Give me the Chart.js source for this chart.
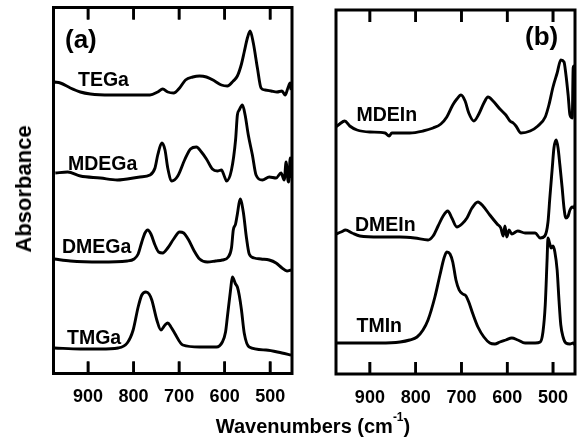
<!DOCTYPE html>
<html>
<head>
<meta charset="utf-8">
<script src="https://cdn.jsdelivr.net/npm/chart.js@4/dist/chart.umd.min.js"></script>
<style>
  html, body { margin: 0; padding: 0; background: #fff; }
  #wrap { position: relative; width: 582px; height: 440px; overflow: hidden; background: #fff; }
  #ca { position: absolute; left: 0; top: 0; }
  #cb { position: absolute; left: 300px; top: 0; }
  .lbl { position: absolute; font-family: 'Liberation Sans', Arial, sans-serif; font-weight: bold; color: #000; line-height: 1; white-space: nowrap; }
  .s { font-size: 19.5px; }
  .p { font-size: 26px; }
  #xt { font-size: 20px; left: 313px; top: 416px; transform: translateX(-50%); }
  #xt sup { font-size: 12px; vertical-align: 12px; line-height: 0; }
  #yt { font-size: 22px; left: 24px; top: 189px; transform: translate(-50%, -50%) rotate(-90deg); }
</style>
</head>
<body>
<div id="wrap">
  <canvas id="ca" width="300" height="440"></canvas>
  <canvas id="cb" width="282" height="440"></canvas>
  <div class="lbl p" style="left:65px;top:25.5px">(a)</div>
  <div class="lbl p" style="left:525px;top:22.5px">(b)</div>
  <div class="lbl s" style="left:78px;top:69.5px">TEGa</div>
  <div class="lbl s" style="left:68px;top:153.5px">MDEGa</div>
  <div class="lbl s" style="left:62px;top:236.8px">DMEGa</div>
  <div class="lbl s" style="left:67px;top:327.8px">TMGa</div>
  <div class="lbl s" style="left:356.5px;top:105.2px">MDEIn</div>
  <div class="lbl s" style="left:355px;top:215.2px">DMEIn</div>
  <div class="lbl s" style="left:356.5px;top:316.2px">TMIn</div>
  <div class="lbl" id="xt">Wavenumbers (cm<sup>-1</sup>)</div>
  <div class="lbl" id="yt">Absorbance</div>
</div>
<script>
// ---- data (wavenumber in cm^-1, absorbance in arbitrary offset units) ----
const tickValues = [900, 800, 700, 600, 500];

const tegaWn  = [974,961,939,917,895,851,808,764,747,736,725,712,699,686,670,655,640,622,607,594,581,572,563,557,550,544,537,528,520,511,498,485,474,467,461,456,454];
const tegaAbs = [291,290,285,281,279,278,278,278,281,284,281,280,285,293,296,297,296,292,288,287,292,297,309,321,335,342,330,305,285,283,282,281,282,278,285,290,283];

const mdegaWn  = [972,945,917,873,836,786,764,753,747,738,731,725,716,703,688,675,662,651,640,627,616,607,600,596,585,576,572,568,561,555,548,539,531,517,502,487,476,469,465,461,459,456,454];
const mdegaAbs = [200,201,197,195,193,196,198,205,218,230,223,205,192,197,213,224,226,221,214,204,202,203,196,192,203,233,258,263,268,258,238,218,198,193,196,195,200,193,211,193,191,215,195];

const dmegaWn  = [974,939,873,814,799,790,782,775,769,762,753,745,736,725,712,699,690,679,668,655,638,620,605,592,585,581,576,572,566,559,552,546,535,520,502,487,474,463,454];
const dmegaAbs = [114,112,111,112,114,119,131,140,143,139,128,121,120,125,134,141,140,133,123,114,111,112,113,116,125,143,149,159,174,161,135,119,115,114,113,110,105,102,103];

const tmgaWn  = [974,917,873,834,814,801,790,782,773,766,760,749,740,731,725,718,710,692,655,618,605,598,594,587,583,576,572,568,563,557,546,509,474,454];
const tmgaAbs = [25,24,24,25,30,43,66,78,81,79,73,53,43,48,50,46,40,28,26,26,31,41,56,83,96,89,86,78,63,40,26,23,20,18];

const mdeinWn  = [974,966,955,944,928,900,867,858,852,813,784,762,745,732,719,710,701,692,684,673,662,651,642,631,616,603,594,587,581,570,550,533,517,509,500,491,483,476,472,467,463,458,456,454,452];
const mdeinAbs = [246,249,252,247,243,241,240,237,240,240,242,245,249,256,268,274,278,272,260,252,259,270,276,272,264,258,252,250,247,240,242,247,256,268,286,300,313,311,299,278,258,255,305,307,263];

const dmeinWn  = [974,963,953,939,922,878,834,802,773,762,751,740,730,721,710,699,688,677,664,653,638,622,614,609,605,601,596,590,577,561,539,528,518,511,507,502,498,493,489,485,480,476,472,467,463,458,454,452];
const dmeinAbs = [139,141,143,140,137,136,136,135,133,137,147,157,162,155,146,149,155,165,171,167,158,149,145,137,147,136,143,139,142,140,140,135,137,151,175,203,225,233,225,208,185,165,155,157,163,166,165,168];

const tminWn  = [972,922,878,834,813,797,784,773,758,747,738,732,725,719,712,705,697,690,684,675,664,651,638,627,616,603,590,577,561,539,528,522,517,513,511,507,504,500,496,491,487,483,478,472,463,456,452];
const tminAbs = [30,30,30,31,33,36,43,53,76,98,115,121,119,111,93,83,79,77,71,59,46,36,30,29,31,33,35,33,30,30,31,41,68,113,135,129,125,127,121,103,73,48,36,30,29,30,28];

// ---- rendering ----
const FONT = "'Liberation Sans', Arial, sans-serif";
function toPts(wn, ab) { return wn.map((w, i) => ({ x: w, y: ab[i] })); }

const frameTicks = {
  id: 'frameTicks',
  afterDraw(chart) {
    try {
      const ctx = chart.ctx;
      const area = chart.chartArea;
      const xs = chart.scales['x'];
      ctx.save();
      ctx.strokeStyle = '#000';
      ctx.lineWidth = 3;
      ctx.strokeRect(area.left, area.top, area.right - area.left, area.bottom - area.top);
      ctx.lineWidth = 2.6;
      for (const v of tickValues) {
        const px = xs.getPixelForValue(v);
        ctx.beginPath(); ctx.moveTo(px, area.bottom); ctx.lineTo(px, area.bottom - 12); ctx.stroke();
        ctx.beginPath(); ctx.moveTo(px, area.top); ctx.lineTo(px, area.top + 12); ctx.stroke();
      }
      ctx.restore();
    } catch (e) { /* ignore */ }
  }
};

function tickSets(opt) {
  // inward tick marks, 12 px long, expressed through the y scale
  const k = 12 * (opt.ymax - opt.ymin) / opt.areaH;
  const sets = [];
  tickValues.forEach(v => {
    sets.push({ data: [{ x: v, y: opt.ymin }, { x: v, y: opt.ymin + k }], showLine: true, borderColor: '#000', borderWidth: 2.6, pointRadius: 0, borderCapStyle: 'butt' });
    sets.push({ data: [{ x: v, y: opt.ymax }, { x: v, y: opt.ymax - k }], showLine: true, borderColor: '#000', borderWidth: 2.6, pointRadius: 0, borderCapStyle: 'butt' });
  });
  return sets;
}

function makePanel(id, series, opt) {
  const datasets = series.map(s => ({
    data: toPts(s[0], s[1]),
    showLine: true,
    borderColor: '#000',
    borderWidth: 2.9,
    pointRadius: 0,
    cubicInterpolationMode: 'monotone'
  })).concat(tickSets(opt));
  return new Chart(document.getElementById(id), {
    type: 'scatter',
    data: { datasets },
    options: {
      responsive: false,
      devicePixelRatio: 1,
      animation: false,
      events: [],
      layout: { padding: opt.padding },
      plugins: { legend: { display: false }, tooltip: { enabled: false } },
      scales: {
        x: {
          type: 'linear',
          reverse: true,
          min: opt.xmin, max: opt.xmax,
          grid: { display: false, drawTicks: false },
          border: { display: false },
          ticks: { font: { family: FONT, size: 18, weight: 'bold' }, color: '#000', padding: 13 },
          afterBuildTicks: s => { s.ticks = tickValues.map(v => ({ value: v })); },
          afterFit: s => { s.height = 50; }
        },
        y: { display: false, min: opt.ymin, max: opt.ymax }
      }
    },
    plugins: [frameTicks]
  });
}

makePanel('ca', [[tegaWn, tegaAbs], [mdegaWn, mdegaAbs], [dmegaWn, dmegaAbs], [tmgaWn, tmgaAbs]],
  { padding: { left: 53.5, right: 8, top: 7.5, bottom: 16.5 }, xmin: 452, xmax: 976, ymin: -0.5, ymax: 365.5, areaH: 366 });
makePanel('cb', [[mdeinWn, mdeinAbs], [dmeinWn, dmeinAbs], [tminWn, tminAbs]],
  { padding: { left: 36, right: 7, top: 10, bottom: 16 }, xmin: 452, xmax: 974, ymin: -1, ymax: 363, areaH: 364 });
</script>
</body>
</html>
